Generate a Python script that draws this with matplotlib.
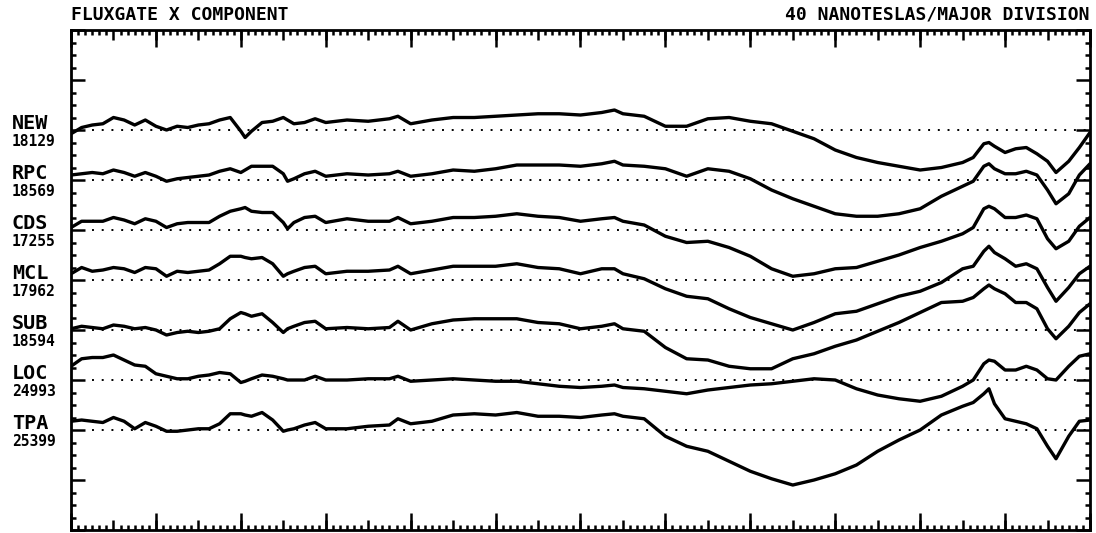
import matplotlib
matplotlib.use("Agg")
import matplotlib.pyplot as plt
from matplotlib.ticker import MultipleLocator
from matplotlib.transforms import blended_transform_factory

# time of day, hours
hours = [0, 0.25, 0.5, 0.75, 1, 1.25, 1.5, 1.75, 2, 2.25, 2.5, 2.75, 3, 3.25, 3.5, 3.75,
         4, 4.1, 4.25, 4.5, 4.75, 5, 5.1, 5.25, 5.5, 5.75, 6,
         6.5, 7, 7.5, 7.7, 8, 8.5, 9, 9.5, 10, 10.5, 11, 11.5, 12, 12.5, 12.8, 13, 13.5,
         14, 14.5, 15, 15.5, 16, 16.5, 17, 17.5, 18, 18.5, 19, 19.5, 20, 20.5, 21,
         21.25, 21.5, 21.62, 21.75, 22, 22.25, 22.5, 22.75, 23, 23.2, 23.5, 23.75, 24]

stations = ["NEW", "RPC", "CDS", "MCL", "SUB", "LOC", "TPA"]
base_nt = ["18129", "18569", "17255", "17962", "18594", "24993", "25399"]

# deviation from baseline, nT
new = [-3, 2, 4, 5, 10, 8, 4, 8, 3, 0, 3, 2, 4, 5, 8, 10, -1, -6, -1, 6, 7, 10, 8, 5, 6, 9, 6,
       8, 7, 9, 11, 5, 8, 10, 10, 11, 12, 13, 13, 12, 14, 16, 13, 11, 3, 3, 9, 10, 7, 5, -1, -7,
       -16, -22, -26, -29, -32, -30, -26,
       -22, -11, -10, -13, -18, -15, -14, -19, -25, -34, -25, -14, -2]
rpc = [4, 5, 6, 5, 8, 6, 3, 6, 3, -1, 1, 2, 3, 4, 7, 9, 6, 8, 11, 11, 11, 5, -1, 1, 5, 7, 3,
       5, 4, 5, 7, 3, 5, 8, 7, 9, 12, 12, 12, 11, 13, 15, 12, 11, 9, 3, 9, 7, 1, -8, -15, -21,
       -27, -29, -29, -27, -23, -13, -5,
       -1, 11, 13, 9, 5, 5, 7, 4, -8, -19, -11, 4, 13]
cds = [2, 7, 7, 7, 10, 8, 5, 9, 7, 2, 5, 6, 6, 6, 11, 15, 17, 18, 15, 14, 14, 6, 1, 6, 10, 11, 6,
       9, 7, 7, 10, 5, 7, 10, 10, 11, 13, 11, 10, 7, 9, 10, 7, 4, -5, -10, -9, -14, -21, -31, -37,
       -35, -31, -30, -25, -20, -14, -9, -3,
       2, 17, 19, 17, 10, 10, 12, 9, -7, -15, -9, 3, 10]
mcl = [5, 10, 7, 8, 10, 9, 6, 10, 9, 3, 7, 6, 7, 8, 13, 19, 19, 18, 17, 18, 13, 3, 5, 7, 10, 11, 5,
       7, 7, 8, 11, 5, 8, 11, 11, 11, 13, 10, 9, 5, 9, 9, 5, 1, -7, -13, -15, -23, -30, -35, -40,
       -34, -27, -25, -19, -13, -9, -2, 9,
       11, 23, 27, 22, 17, 11, 13, 9, -6, -17, -6, 5, 11]
sub = [1, 3, 2, 1, 4, 3, 1, 2, 0, -4, -2, -1, -2, -1, 1, 9, 14, 13, 11, 13, 6, -2, 1, 3, 6, 7, 1,
       2, 1, 2, 7, 0, 5, 8, 9, 9, 9, 6, 5, 1, 3, 5, 1, -1, -14, -23, -24, -29, -31, -31, -23,
       -19, -13, -8, -1, 6, 14, 22, 23,
       26, 33, 36, 33, 29, 22, 22, 17, 1, -7, 3, 14, 21]
loc = [11, 17, 18, 18, 20, 16, 12, 11, 5, 3, 1, 1, 3, 4, 6, 5, -2, -1, 1, 4, 3, 1, 0, 0, 0, 3, 0,
       0, 1, 1, 3, -1, 0, 1, 0, -1, -1, -3, -5, -6, -5, -4, -6, -7, -9, -11, -8, -6, -4, -3, -1,
       1, 0, -7, -12, -15, -17, -13, -5,
       0, 13, 16, 15, 8, 8, 11, 8, 1, 0, 11, 19, 21]
tpa = [7, 8, 7, 6, 10, 7, 1, 6, 3, -1, -1, 0, 1, 1, 5, 13, 13, 12, 11, 14, 8, -1, 0, 1, 4, 6, 1,
       1, 3, 4, 9, 5, 7, 12, 13, 12, 14, 11, 11, 10, 12, 13, 11, 9, -5, -13, -17, -25, -33, -39,
       -44, -40, -35, -28, -17, -8, 0, 12, 19,
       22, 29, 33, 21, 9, 7, 5, 1, -13, -23, -5, 7, 8]
traces = [new, rpc, cds, mcl, sub, loc, tpa]

font = "DejaVu Sans Mono"
fig = plt.figure(figsize=(10.96, 5.33), dpi=100)
rect = [0.0648, 0.0056, 0.9297, 0.9381]
ax = fig.add_axes(rect)

for i, (name, num, dev) in enumerate(zip(stations, base_nt, traces)):
    base = 40 * (8 - i)
    ax.plot([0.5, 24], [base, base], color="black", lw=1.4, ls=(0, (1, 4)))
    ax.plot(hours, [base + d for d in dev], color="black", lw=2.4,
            solid_joinstyle="round", solid_capstyle="round")
    tr = blended_transform_factory(ax.transAxes, ax.transData)
    ax.text(-0.058, base + 5, name, transform=tr, ha="left", va="center",
            family=font, fontweight="bold", fontsize=14.5)
    ax.text(-0.058, base - 9, num, transform=tr, ha="left", va="center",
            family=font, fontweight="bold", fontsize=10.5)

ax.set_xlim(0, 24)
ax.set_ylim(0, 400)
ax.xaxis.set_major_locator(MultipleLocator(1))
ax.xaxis.set_minor_locator(MultipleLocator(1 / 6))
ax.yaxis.set_major_locator(MultipleLocator(40))
ax.yaxis.set_minor_locator(MultipleLocator(10))
ax.tick_params(which="both", direction="in", top=True, right=True,
               labelbottom=False, labelleft=False, width=1.8)
ax.tick_params(axis="x", which="major", length=7)
ax.tick_params(axis="x", which="minor", length=3.5)
ax.tick_params(axis="y", which="major", length=10)
ax.tick_params(axis="y", which="minor", length=3.5)
for s in ax.spines.values():
    s.set_linewidth(2)

# long ticks every two hours
ax2 = fig.add_axes(rect)
ax2.set_xlim(0, 24)
ax2.patch.set_visible(False)
for s in ax2.spines.values():
    s.set_visible(False)
ax2.xaxis.set_major_locator(MultipleLocator(2))
ax2.set_yticks([])
ax2.tick_params(axis="x", direction="in", top=True, length=12, width=1.8,
                labelbottom=False)

fig.text(0.0648, 0.972, "FLUXGATE X COMPONENT", ha="left", va="center",
         family=font, fontweight="bold", fontsize=13)
fig.text(0.9945, 0.972, "40 NANOTESLAS/MAJOR DIVISION", ha="right", va="center",
         family=font, fontweight="bold", fontsize=13)

fig.savefig("out.png", dpi=100)
